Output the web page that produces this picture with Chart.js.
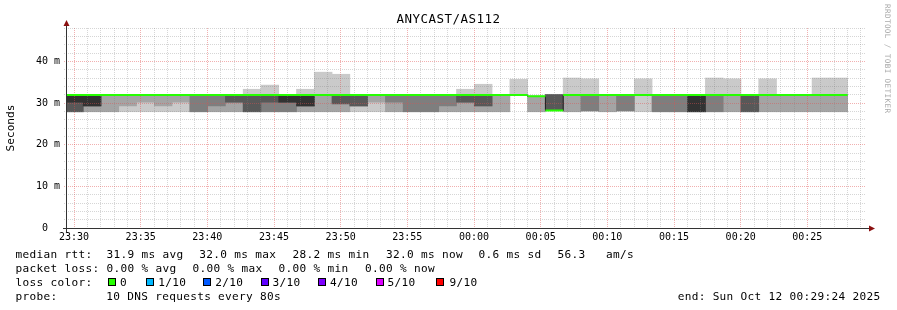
<!DOCTYPE html>
<html><head><meta charset="utf-8">
<script src="https://cdn.jsdelivr.net/npm/chart.js@4/dist/chart.umd.min.js"></script>
<style>
html,body{margin:0;padding:0;background:#fff;}
#wrap{position:relative;width:897px;height:310px;overflow:hidden;background:#fff;}
#c{position:absolute;left:0;top:0;}
.t{position:absolute;white-space:pre;font-family:'DejaVu Sans Mono',monospace;font-size:11.1px;line-height:11.1px;letter-spacing:0.31px;color:#000;}
.box{position:absolute;width:8px;height:8px;box-sizing:border-box;border:1px solid #000;}
#wm{position:absolute;left:883px;top:4px;writing-mode:vertical-rl;font-family:'DejaVu Sans Mono',monospace;font-size:7.6px;line-height:8px;letter-spacing:0.4px;color:#aaa;white-space:pre;}
</style></head><body>
<div id="wrap">
<canvas id="c" width="897" height="310"></canvas>
<div class="t" style="left:0;width:897px;top:13.4px;text-align:center;font-size:12.5px;line-height:12.5px;letter-spacing:0.47px">ANYCAST/AS112</div>
<div id="wm">RRDTOOL / TOBI OETIKER</div>
<div class="t" style="left:15.5px;top:248.6px">median rtt:</div>
<div class="t" style="left:106.6px;top:248.6px">31.9 ms avg</div>
<div class="t" style="left:199.3px;top:248.6px">32.0 ms max</div>
<div class="t" style="left:292.6px;top:248.6px">28.2 ms min</div>
<div class="t" style="left:386px;top:248.6px">32.0 ms now</div>
<div class="t" style="left:478.6px;top:248.6px">0.6 ms sd</div>
<div class="t" style="left:557.6px;top:248.6px">56.3</div>
<div class="t" style="left:606px;top:248.6px">am/s</div>
<div class="t" style="left:15.5px;top:262.6px">packet loss:</div>
<div class="t" style="left:106.6px;top:262.6px">0.00 % avg</div>
<div class="t" style="left:192.6px;top:262.6px">0.00 % max</div>
<div class="t" style="left:278.6px;top:262.6px">0.00 % min</div>
<div class="t" style="left:365px;top:262.6px">0.00 % now</div>
<div class="t" style="left:15.5px;top:276.6px">loss color:</div>
<div id="lossLegend"></div>
<div class="t" style="left:15.5px;top:290.6px">probe:</div>
<div class="t" style="left:106.3px;top:290.6px">10 DNS requests every 80s</div>
<div class="t" style="left:677.7px;top:290.6px">end: Sun Oct 12 00:29:24 2025</div>
</div>
<script>
// ---- time axis (seconds relative to 23:30:00) ----
const viewStart = -36;        // 23:29:24
const viewEnd = 3564;         // 00:29:24
const stepSeconds = 80;       // one probe round every 80 s
const firstStepStart = -38.7; // start of first round shown
const yMax = 48;              // ms

// ---- median RTT per round (ms) ----
const median = [31.9,31.9,31.9,31.9,31.9,31.9,31.9,31.9,31.9,31.9,31.9,31.9,31.9,31.9,31.9,31.9,31.9,31.9,31.9,31.9,31.9,31.9,31.9,31.9,31.9,31.9,
  31.6,28.2,
  31.9,31.9,31.9,31.9,31.9,31.9,31.9,31.9,31.9,31.9,31.9,31.9,31.9,31.9,31.9,31.9];

// ---- sorted ping RTTs per round (ms), ping1 = fastest ... ping10 = slowest ----
const ping1 = [27.9,27.9,27.9,27.9,27.9,27.9,27.9,27.9,27.9,27.9,27.9,27.9,27.9,27.9,27.9,27.9,27.9,27.9,27.9,27.9,27.9,27.9,27.9,27.9,27.9,
  32,27.9,28.2,27.9,28.1,27.9,28.1,
  27.9,27.9,27.9,27.9,27.9,27.9,27.9,27.9,27.9,27.9,27.9,27.9];
const ping2 = [27.9,27.9,27.9,29.3,30.2,29.3,30.2,27.9,27.9,27.9,27.9,27.9,27.9,27.9,27.9,27.9,29.3,30.2,27.9,27.9,27.9,27.9,27.9,27.9,27.9,
  32,27.9,28.2,27.9,28.1,27.9,28.1,32,27.9,
  27.9,27.9,27.9,27.9,27.9,27.9,27.9,27.9,27.9,27.9];
const ping3 = [27.9,29.3,32,32,32,32,32,27.9,29.3,30.2,27.9,27.9,27.9,29.3,32,29.8,29.3,32,30.2,27.9,27.9,29.3,30.2,29.3,32,
  32,31.6,28.2,32,28.1,32,28.1,32,27.9,27.9,27.9,27.9,32,27.9,32,32,32,32,32];
const ping4 = [27.9,29.3,32,32,32,32,32,32,32,30.2,27.9,30.2,30.2,29.3,32,29.8,29.3,32,32,32,32,32,30.2,29.3,32,
  32,31.6,28.2,32,32,32,32,32,32,32,27.9,32,32,27.9,32,32,32,32,32];
const ping5 = [30.2,29.3,32,32,32,32,32,32,32,32,32,32,30.2,29.3,32,32,32,32,32,32,32,32,32,32,32,
  32,31.6,28.2,32,32,32,32,32,32,32,27.9,32,32,32,32,32,32,32,32];
const ping6 = [32,32,32,32,32,32,32,32,32,32,32,32,32,32,32,32,32,32,32,32,32,32,32,32,32,
  32,31.6,28.2,32,32,32,32,32,32,32,32,32,32,32,32,32,32,32,32];
const ping7 = [32,32,32,32,32,32,32,32,32,32,32,32,32,32,32,32,32,32,32,32,32,32,32,32,32,
  32,31.6,32,32,32,32,32,32,32,32,32,32,32,32,32,32,32,32,32];
const ping8 = [32,32,32,32,32,32,32,32,32,32,32,32,32,32,32,32,32,32,32,32,32,32,32,32,32,
  32,31.6,32,32,32,32,32,32,32,32,32,32,32,32,32,32,32,32,32];
const ping9 = [32,32,32,32,32,32,32,32,32,32,32,32,32,32,32,32,32,32,32,32,32,32,32,32,32,
  32,31.6,32,32,32,32,32,32,32,32,32,32,32,32,32,32,32,32,32];
const ping10 = [32,32,32,32,32,32,32,32,32,32,33.3,34.3,32,33.3,37.4,36.9,32,32,32,32,32,32,33.3,34.5,32,
  35.7,31.6,32,36.0,35.8,32,32,35.8,32,32,32,36.0,35.8,32,35.8,32,32,36.0,36.0];

// ---- tick values ----
const xTickValues = [];
for (let v = 0; v < viewEnd; v += 60) xTickValues.push(v);
const yTickValues = [];
for (let v = 0; v <= yMax; v += 2) yTickValues.push(v);

// ---- legend ----
const lossLabels = ['0','1/10','2/10','3/10','4/10','5/10','9/10'];
const lossColors = ['#26ff00','#00b8ff','#0059ff','#5e00ff','#7e00ff','#dd00ff','#ff0000'];
const lossBoxX = [108,146,203,261,318,376,436];
const lossTextX = [120,158.3,215.3,272.5,330,387.5,449.5];

const smokeColors = ['#cacaca','#a4a4a4','#7e7e7e','#585858','#323232'];
const medianColor = '#26ff00';
const minorGrid = 'rgba(128,128,128,0.32)';
const majorGrid = 'rgba(224,80,80,0.45)';
const mono = "'DejaVu Sans Mono', monospace";

const lg = document.getElementById('lossLegend');
lossLabels.forEach((lab, i) => {
  const b = document.createElement('div');
  b.className = 'box';
  b.style.left = lossBoxX[i] + 'px'; b.style.top = '278px';
  b.style.background = lossColors[i];
  lg.appendChild(b);
  const t = document.createElement('div');
  t.className = 't';
  t.style.left = lossTextX[i] + 'px'; t.style.top = '276.6px';
  t.textContent = lab;
  lg.appendChild(t);
});

const pings = [ping1,ping2,ping3,ping4,ping5,ping6,ping7,ping8,ping9,ping10];
const stepStart = median.map((_, k) => firstStepStart + stepSeconds * k);
const stepCenter = stepStart.map(s => s + stepSeconds / 2);

const datasets = [];
// green median segments (one per round)
const greenData = [];
median.forEach((m, k) => {
  greenData.push({x: stepStart[k], y: m}, {x: stepStart[k] + stepSeconds, y: m}, {x: stepStart[k] + stepSeconds, y: null});
});
datasets.push({type:'line', xAxisID:'x', data: greenData, borderColor: medianColor, borderWidth: 2,
  pointRadius: 0, spanGaps: false, tension: 0, order: 0});
// dark step transitions of the median
datasets.push({type:'line', xAxisID:'x', data: stepCenter.map((x, k) => ({x, y: median[k]})),
  stepped: 'middle', borderColor: '#202020', borderWidth: 1, pointRadius: 0, order: 1});
// smoke layers
for (let i = 0; i < 5; i++) {
  datasets.push({
    type: 'bar', xAxisID: 'xb',
    data: stepCenter.map((x, k) => {
      const lo = pings[i][k], hi = pings[9 - i][k];
      return {x, y: hi > lo ? [lo, hi] : null};
    }),
    backgroundColor: smokeColors[i], borderWidth: 0, grouped: false,
    barPercentage: 1, categoryPercentage: 1, order: 10 - i
  });
}
const topSmokeIndex = datasets.length - 1;

function fmtTime(v) {
  const t = ((23 * 3600 + 30 * 60 + v) % 86400 + 86400) % 86400;
  const h = Math.floor(t / 3600), m = Math.floor((t % 3600) / 60);
  return String(h).padStart(2, '0') + ':' + String(m).padStart(2, '0');
}
const align = p => Math.round(p - 0.5) + 0.5;

// dotted grid drawn over the smoke, under the median line
const gridPlugin = {
  id: 'rrdGrid',
  afterDatasetDraw(chart, args) {
    if (args.index !== topSmokeIndex) return;
    const {ctx, chartArea: a, scales: {x, y}} = chart;
    ctx.save();
    ctx.lineWidth = 1;
    ctx.setLineDash([1, 1]);
    xTickValues.forEach(v => {
      const px = align(x.getPixelForValue(v));
      ctx.strokeStyle = v % 300 === 0 ? majorGrid : minorGrid;
      ctx.beginPath(); ctx.moveTo(px, a.top); ctx.lineTo(px, a.bottom); ctx.stroke();
    });
    yTickValues.forEach(v => {
      if (v === 0) return;
      const py = align(y.getPixelForValue(v));
      ctx.strokeStyle = v % 10 === 0 ? majorGrid : minorGrid;
      ctx.beginPath(); ctx.moveTo(a.left - 2, py); ctx.lineTo(a.right, py); ctx.stroke();
    });
    ctx.restore();
  }
};

const axisPlugin = {
  id: 'rrdAxes',
  afterDraw(chart) {
    const {ctx, chartArea: a} = chart;
    ctx.save();
    ctx.fillStyle = '#333';
    ctx.fillRect(a.left, a.top - 6, 1, a.bottom - a.top + 10);
    ctx.fillRect(a.left - 3, a.bottom, a.right - a.left + 6, 1);
    ctx.fillStyle = '#8b1010';
    ctx.beginPath();
    ctx.moveTo(a.left - 2.5, a.top - 2); ctx.lineTo(a.left + 3.5, a.top - 2); ctx.lineTo(a.left + 0.5, a.top - 8);
    ctx.closePath(); ctx.fill();
    ctx.beginPath();
    ctx.moveTo(a.right + 3, a.bottom - 2.5); ctx.lineTo(a.right + 3, a.bottom + 3.5); ctx.lineTo(a.right + 9, a.bottom + 0.5);
    ctx.closePath(); ctx.fill();
    ctx.restore();
  }
};

new Chart(document.getElementById('c'), {
  type: 'bar',
  data: {datasets},
  options: {
    responsive: false, animation: false, devicePixelRatio: 1, events: [],
    layout: {padding: {top: 28, right: 31, left: 0, bottom: 0}},
    plugins: {legend: {display: false}, tooltip: {enabled: false}, title: {display: false}},
    scales: {
      x: {
        type: 'linear', min: viewStart, max: viewEnd, offset: false, position: 'bottom',
        afterBuildTicks: s => { s.ticks = xTickValues.map(v => ({value: v})); },
        afterFit: s => { s.height = 82; },
        grid: {display: false, drawTicks: false},
        border: {display: false},
        ticks: {autoSkip: false, maxRotation: 0, minRotation: 0, padding: 3, color: '#000',
          font: {family: mono, size: 10},
          callback: v => (v % 300 === 0 ? fmtTime(v) : '')}
      },
      xb: {
        type: 'linear', min: viewStart, max: viewEnd, offset: false, display: false,
        afterBuildTicks: s => { s.ticks = stepStart.map(v => ({value: v})); }
      },
      y: {
        type: 'linear', min: 0, max: yMax,
        afterBuildTicks: s => { s.ticks = yTickValues.map(v => ({value: v})); },
        afterFit: s => { s.width = 66; },
        grid: {display: false, drawTicks: false},
        border: {display: false},
        ticks: {autoSkip: false, padding: 6, color: '#000', font: {family: mono, size: 10},
          callback: v => (v % 10 === 0 ? (v === 0 ? '0  ' : v + ' m') : '')},
        title: {display: true, text: 'Seconds', color: '#000', font: {family: mono, size: 11.1},
          padding: {top: 4, bottom: 0}}
      }
    }
  },
  plugins: [gridPlugin, axisPlugin]
});
</script>
</body></html>
